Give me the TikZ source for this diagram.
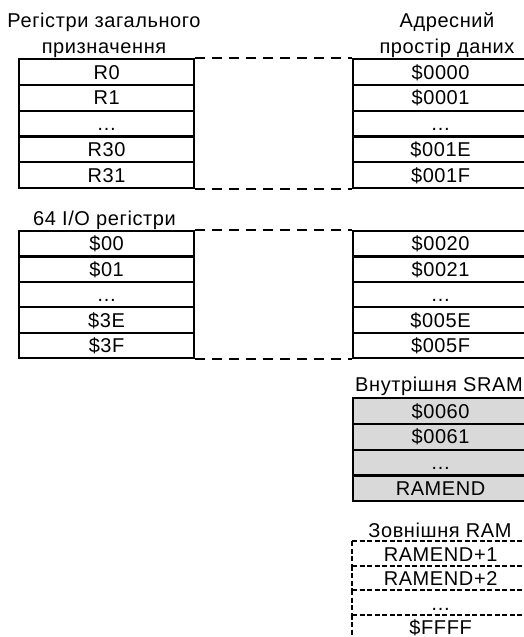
\documentclass[tikz,border=0pt]{standalone}
\usepackage{fontspec}
\setmainfont{Liberation Sans}[LetterSpace=3]
\begin{document}
\begin{tikzpicture}[x=1pt,y=-1pt,
  every node/.style={font=\fontsize{20}{26}\selectfont},
  cell/.style={draw, line width=2.2pt, minimum width=175pt, minimum height=25.8pt,
    inner sep=0pt, anchor=north west, text height=14pt, text depth=0pt},
  sram/.style={cell, fill=black!15},
  ext/.style={cell, draw=none, minimum height=24.5pt},
  title/.style={anchor=south, inner sep=0pt, align=center},
  link/.style={line width=2pt, dash pattern=on 10pt off 7pt},
  extline/.style={line width=2pt, dash pattern=on 5pt off 2.5pt}]
\useasboundingbox (0,0) rectangle (523,637);
% titles
\node[title] (t1) at (104,58) {Регістри загального\\призначення};
\node[title] (t2) at (447,58) {Адресний\\простір даних};
\node[title] (t3) at (104.5,229.5) {64 I/O регістри};
\node[title] (t4) at (439,396) {Внутрішня SRAM};
\node[title] (t5) at (440,538) {Зовнішня RAM};
% general purpose registers
\node[cell] (r0) at (18,58) {R0};
\node[cell] (r1) at (18,83.8) {R1};
\node[cell] (rd) at (18,109.6) {…};
\node[cell] (r30) at (18,135.4) {R30};
\node[cell] (r31) at (18,161.2) {R31};
% data addresses
\node[cell] (a00) at (352,58) {\$0000};
\node[cell] (a01) at (352,83.8) {\$0001};
\node[cell] (ad1) at (352,109.6) {…};
\node[cell] (a1E) at (352,135.4) {\$001E};
\node[cell] (a1F) at (352,161.2) {\$001F};
% I/O registers
\node[cell, minimum height=25.4pt] (io0) at (18,230) {\$00};
\node[cell, minimum height=25.4pt] (io1) at (18,255.4) {\$01};
\node[cell, minimum height=25.4pt] (iod) at (18,280.8) {…};
\node[cell, minimum height=25.4pt] (io3E) at (18,306.2) {\$3E};
\node[cell, minimum height=25.4pt] (io3F) at (18,331.6) {\$3F};
\node[cell, minimum height=25.4pt] (a20) at (352,230) {\$0020};
\node[cell, minimum height=25.4pt] (a21) at (352,255.4) {\$0021};
\node[cell, minimum height=25.4pt] (ad2) at (352,280.8) {…};
\node[cell, minimum height=25.4pt] (a5E) at (352,306.2) {\$005E};
\node[cell, minimum height=25.4pt] (a5F) at (352,331.6) {\$005F};
% internal SRAM
\node[sram] (s60) at (352,397) {\$0060};
\node[sram] (s61) at (352,422.8) {\$0061};
\node[sram] (sd) at (352,448.6) {…};
\node[sram] (se) at (352,474.4) {RAMEND};
% external RAM
\node[ext] (e1) at (352,541) {RAMEND+1};
\node[ext] (e2) at (352,565.5) {RAMEND+2};
\node[ext] (ed) at (352,590) {…};
\node[ext] (ef) at (352,614.5) {\$FFFF};
\foreach \n in {e1,e2,ed,ef}{
  \draw[extline] (\n.north west) -- (\n.north east);
  \draw[extline] (\n.north west) -- (\n.south west);
  \draw[extline] (\n.north east) -- (\n.south east);
}
\draw[extline] (ef.south west) -- (ef.south east);
% dashed links
\draw[link] (r0.north east) -- (a00.north west);
\draw[link] (r31.south east) -- (a1F.south west);
\draw[link] (io0.north east) -- (a20.north west);
\draw[link] (io3F.south east) -- (a5F.south west);
\end{tikzpicture}
\end{document}
